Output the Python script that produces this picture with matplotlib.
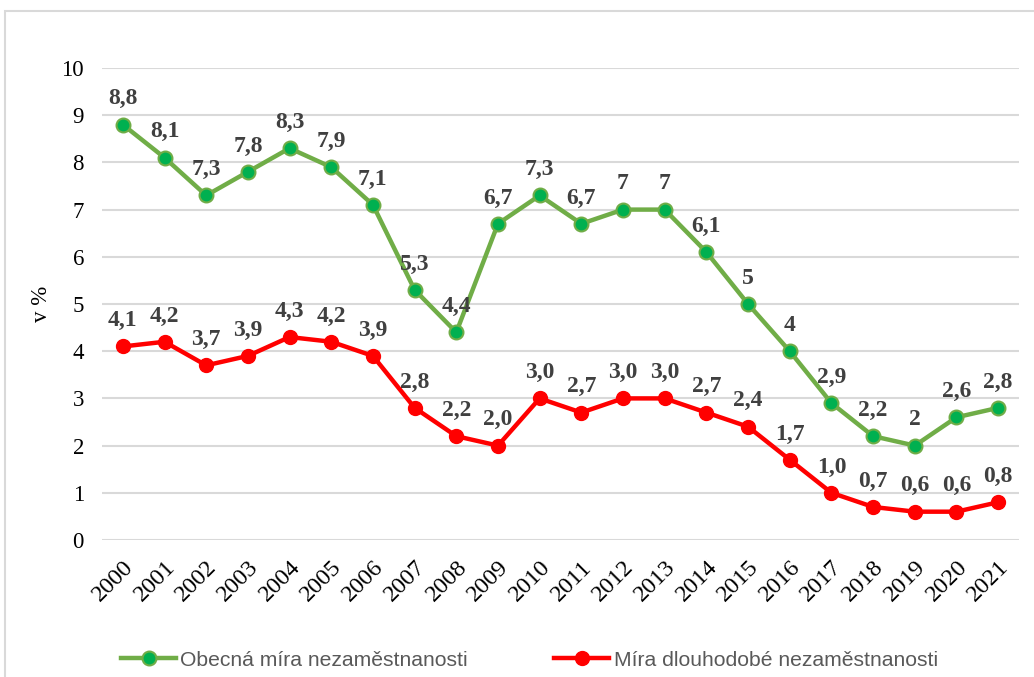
import matplotlib
matplotlib.use("Agg")
import matplotlib.pyplot as plt
from matplotlib.patches import Rectangle
import numpy as np

# data
years = [str(y) for y in range(2000, 2022)]
obecna = [8.8, 8.1, 7.3, 7.8, 8.3, 7.9, 7.1, 5.3, 4.4, 6.7, 7.3,
          6.7, 7, 7, 6.1, 5, 4, 2.9, 2.2, 2, 2.6, 2.8]
dlouhodobe = [4.1, 4.2, 3.7, 3.9, 4.3, 4.2, 3.9, 2.8, 2.2, 2.0, 3.0,
              2.7, 3.0, 3.0, 2.7, 2.4, 1.7, 1.0, 0.7, 0.6, 0.6, 0.8]
label_obecna = "Obecná míra nezaměstnanosti"
label_dlouho = "Míra dlouhodobé nezaměstnanosti"

serif = ["Liberation Serif", "DejaVu Serif"]
sans = ["Liberation Sans", "DejaVu Sans"]

fig = plt.figure(figsize=(10.34, 6.77), dpi=100)
# light gray chart-area frame
fig.patches.append(Rectangle((5 / 1034, -0.1), 1.2, 1 - 11 / 677 + 0.1,
                             transform=fig.transFigure, fill=False,
                             edgecolor="#d9d9d9", linewidth=1.5))
ax = fig.add_axes([102 / 1034, 1 - 540 / 677, (1019 - 102) / 1034, (540 - 68) / 677])

x = np.arange(len(years))
ax.plot(x, obecna, color="#70ad47", lw=3.2, marker="o", ms=10,
        mfc="#00b050", mec="#70ad47", mew=1.5, label=label_obecna, zorder=3)
ax.plot(x, dlouhodobe, color="#ff0000", lw=3.2, marker="o", ms=10,
        mfc="#ff0000", mec="#ff0000", label=label_dlouho, zorder=3)

def fmt_g(v):
    return ("%g" % v).replace(".", ",")

for i, v in enumerate(obecna):
    ax.annotate(fmt_g(v), (i, v), xytext=(0, 11), textcoords="offset points",
                ha="center", va="bottom", fontsize=17, fontweight="bold",
                color="#404040", family=serif)
for i, v in enumerate(dlouhodobe):
    ax.annotate(("%.1f" % v).replace(".", ","), (i, v), xytext=(0, 11),
                textcoords="offset points", ha="center", va="bottom",
                fontsize=17, fontweight="bold", color="#404040", family=serif)

ax.set_xlim(-0.5, len(years) - 0.5)
ax.set_ylim(0, 10)
ax.set_yticks(range(0, 11))
ax.set_xticks(x)
ax.set_xticklabels(years, rotation=45, ha="right", rotation_mode="anchor")
for lab in ax.get_yticklabels():
    lab.set_family(serif)
    lab.set_fontsize(16.5)
for lab in ax.get_xticklabels():
    lab.set_family(serif)
    lab.set_fontsize(17.5)
ax.tick_params(length=0)
ax.tick_params(axis="x", pad=12)
ax.tick_params(axis="y", pad=13)
ax.grid(axis="y", color="#d9d9d9", lw=1.5)
ax.set_axisbelow(True)
for s in ax.spines.values():
    s.set_visible(False)
ax.set_ylabel("v %", family=serif, fontsize=16.5, labelpad=7)

leg = fig.legend(loc="center", bbox_to_anchor=(0.512, 1 - 660 / 677), ncol=2,
                 frameon=False, handlelength=2.6, columnspacing=4.1,
                 handletextpad=0.2, prop={"family": sans, "size": 15.2})
for t in leg.get_texts():
    t.set_color("#595959")

fig.savefig("out.png", dpi=100)
